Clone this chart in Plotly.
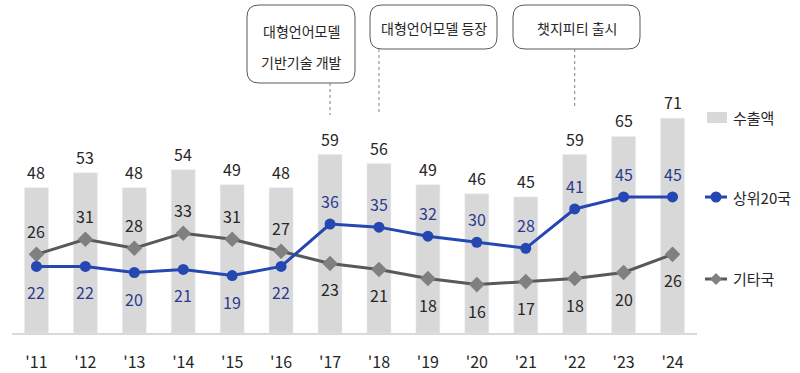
import plotly.graph_objects as go

years = ["'11", "'12", "'13", "'14", "'15", "'16", "'17", "'18", "'19", "'20", "'21", "'22", "'23", "'24"]
exports = [48, 53, 48, 54, 49, 48, 59, 56, 49, 46, 45, 59, 65, 71]
top20 = [22, 22, 20, 21, 19, 22, 36, 35, 32, 30, 28, 41, 45, 45]
others = [26, 31, 28, 33, 31, 27, 23, 21, 18, 16, 17, 18, 20, 26]
series_names = ["수출액", "상위20국", "기타국"]
event_years = ["'17", "'18", "'22"]
event_texts = [["대형언어모델", "기반기술 개발"], ["대형언어모델 등장"], ["챗지피티 출시"]]

BAR = "#D9D8D9"
BLUE = "#2447B2"
GRAY_LINE = "#595959"
GRAY_MARK = "#808080"
BLUE_TEXT = "#2B3A8C"
TEXT = "#262626"
FONT = "Liberation Sans Narrow, Noto Sans CJK KR, sans-serif"

W, H = 800, 373
ML, MR, MT, MB = 12, 103, 91, 40
PW = W - ML - MR
PH = H - MT - MB
BASE = H - MB


def px(x):
    return (x - ML) / PW


def py(y):
    return (BASE - y) / PH


fig = go.Figure()
fig.add_trace(go.Bar(x=years, y=exports, marker_color=BAR, width=0.49, name=series_names[0]))
fig.add_trace(go.Scatter(x=years, y=others, mode="lines+markers", name=series_names[2],
                         line=dict(color=GRAY_LINE, width=3),
                         marker=dict(symbol="diamond", size=12, color=GRAY_MARK)))
fig.add_trace(go.Scatter(x=years, y=top20, mode="lines+markers", name=series_names[1],
                         line=dict(color=BLUE, width=3),
                         marker=dict(size=11, color=BLUE)))

ann = []
for yr, e, a, b in zip(years, exports, top20, others):
    ann.append(dict(x=yr, y=e, text=str(e), showarrow=False, yanchor="middle", yshift=16,
                    font=dict(size=16, color=TEXT, family=FONT)))
    a_up = a > b
    ann.append(dict(x=yr, y=a, text=str(a), showarrow=False, yanchor="middle",
                    yshift=23 if a_up else -26, font=dict(size=16, color=BLUE_TEXT, family=FONT)))
    ann.append(dict(x=yr, y=b, text=str(b), showarrow=False, yanchor="middle",
                    yshift=-26 if a_up else 23, font=dict(size=16, color=TEXT, family=FONT)))

shapes = []


def rrect(x0, y0, x1, y1, r=12):
    pts = [("M", x0 + r, y0), ("L", x1 - r, y0), ("Q", x1, y0, x1, y0 + r), ("L", x1, y1 - r),
           ("Q", x1, y1, x1 - r, y1), ("L", x0 + r, y1), ("Q", x0, y1, x0, y1 - r),
           ("L", x0, y0 + r), ("Q", x0, y0, x0 + r, y0)]
    s = ""
    for p in pts:
        cmd = p[0]
        coords = p[1:]
        parts = []
        for i in range(0, len(coords), 2):
            parts.append(f"{px(coords[i]):.5f},{py(coords[i+1]):.5f}")
        s += cmd + " " + " ".join(parts) + " "
    return s + "Z"


# event boxes (pixel layout)
boxes = [(247, 5, 355, 83), (370, 5, 497, 49), (513, 5, 640, 49)]
line_ends = [115, 115, 108]
for (bx0, by0, bx1, by1), yr, texts, yend in zip(boxes, event_years, event_texts, line_ends):
    shapes.append(dict(type="path", xref="paper", yref="paper", path=rrect(bx0, by0, bx1, by1),
                       line=dict(color="#595959", width=1), fillcolor="white"))
    xi = years.index(yr)
    shapes.append(dict(type="line", xref="x", yref="paper", x0=xi, x1=xi, y0=py(by1), y1=py(yend),
                       line=dict(color="#7F7F7F", width=1, dash="3px,3px")))
    cx = (bx0 + bx1) / 2
    if len(texts) == 2:
        ys = [31, 62]
    else:
        ys = [(by0 + by1) / 2 + 1]
    for t, ty in zip(texts, ys):
        ann.append(dict(x=px(cx), y=py(ty), xref="paper", yref="paper", text=t, showarrow=False,
                        xanchor="center", yanchor="middle", font=dict(size=14, color=TEXT, family=FONT)))

# custom legend
shapes.append(dict(type="rect", xref="paper", yref="paper", x0=px(707), x1=px(727), y0=py(112), y1=py(123),
                   fillcolor=BAR, line=dict(width=0)))
shapes.append(dict(type="line", xref="paper", yref="paper", x0=px(705), x1=px(727), y0=py(197), y1=py(197),
                   line=dict(color=BLUE, width=3)))
shapes.append(dict(type="circle", xref="paper", yref="paper", xsizemode="pixel", ysizemode="pixel",
                   xanchor=px(716), yanchor=py(197), x0=-5.5, x1=5.5, y0=-5.5, y1=5.5,
                   fillcolor=BLUE, line=dict(width=0)))
shapes.append(dict(type="line", xref="paper", yref="paper", x0=px(705), x1=px(727), y0=py(279), y1=py(279),
                   line=dict(color=GRAY_LINE, width=3)))
shapes.append(dict(type="path", xref="paper", yref="paper", xsizemode="pixel", ysizemode="pixel",
                   xanchor=px(716), yanchor=py(279), path="M -6,0 L 0,6 L 6,0 L 0,-6 Z",
                   fillcolor=GRAY_MARK, line=dict(width=0)))
for name, ly in zip(series_names, [117, 197, 278]):
    ann.append(dict(x=px(731), y=py(ly), xref="paper", yref="paper", text=name, showarrow=False,
                    xanchor="left", yanchor="middle", font=dict(size=15, color=TEXT, family=FONT)))

fig.update_layout(
    width=W, height=H, margin=dict(l=ML, r=MR, t=MT, b=MB, pad=0, autoexpand=False),
    plot_bgcolor="white", paper_bgcolor="white", showlegend=False,
    bargap=0.51, annotations=ann, shapes=shapes,
    font=dict(family=FONT, color=TEXT),
    xaxis=dict(type="category", range=[-0.5, len(years) - 0.5], showline=True, linecolor="#D9D9D9",
               linewidth=2, ticks="", showgrid=False, zeroline=False,
               tickfont=dict(size=16, color=TEXT, family=FONT),
               ticklabelstandoff=14, automargin=False),
    yaxis=dict(range=[0, 80], visible=False, showgrid=False, zeroline=False, automargin=False),
)

fig.write_html("out.html", config={"displayModeBar": False},
               post_script="document.body.style.margin='0px';document.body.style.padding='0px';")
